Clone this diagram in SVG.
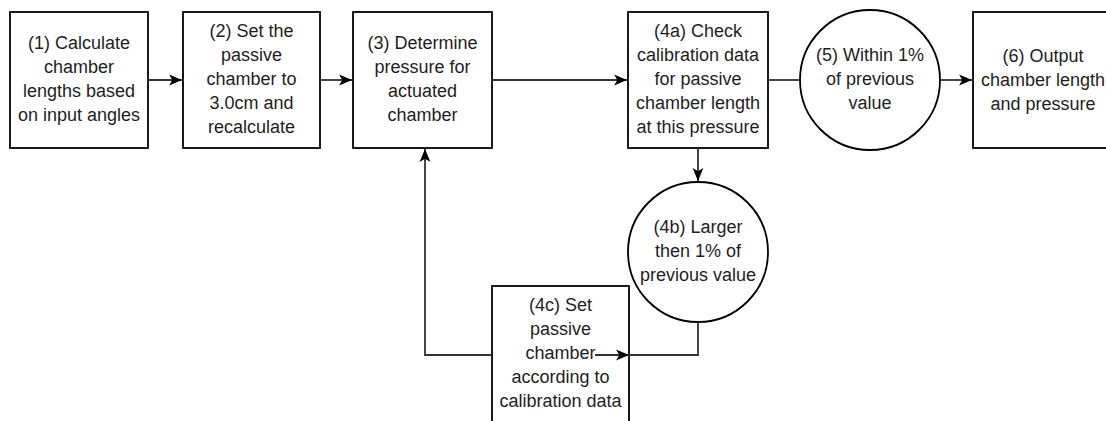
<svg xmlns="http://www.w3.org/2000/svg" width="1106" height="421" viewBox="0 0 1106 421">
<style>
.box{fill:#fff;stroke:#000;stroke-width:1.8}
.t{font-family:"Liberation Sans",Arial,sans-serif;font-size:18px;fill:#1e1e1e;text-anchor:middle}
.c{fill:none;stroke:#333;stroke-width:1.8}
</style>
<defs>
<marker id="arr" markerUnits="userSpaceOnUse" markerWidth="14" markerHeight="12" viewBox="0 0 13 10" refX="12" refY="5" orient="auto">
<path d="M0,0 L12,5 L0,10 L3,5 Z" fill="#000"/>
</marker>
</defs>
<rect width="1106" height="421" fill="#fff"/>
<g id="n1">
<rect class="box" x="10" y="12" width="138" height="136"/>
<text class="t" x="79" y="48.5">(1) Calculate</text>
<text class="t" x="79" y="72.5">chamber</text>
<text class="t" x="79" y="96.5">lengths based</text>
<text class="t" x="79" y="120.5">on input angles</text>
</g>
<g id="n2">
<rect class="box" x="183" y="12" width="137" height="136"/>
<text class="t" x="251.5" y="36.5">(2) Set the</text>
<text class="t" x="251.5" y="60.5">passive</text>
<text class="t" x="251.5" y="84.5">chamber to</text>
<text class="t" x="251.5" y="108.5">3.0cm and</text>
<text class="t" x="251.5" y="132.5">recalculate</text>
</g>
<g id="n3">
<rect class="box" x="353" y="12" width="139" height="136"/>
<text class="t" x="422.5" y="48.5">(3) Determine</text>
<text class="t" x="422.5" y="72.5">pressure for</text>
<text class="t" x="422.5" y="96.5">actuated</text>
<text class="t" x="422.5" y="120.5">chamber</text>
</g>
<g id="n4a">
<rect class="box" x="628" y="12" width="140" height="136"/>
<text class="t" x="698" y="36.5">(4a) Check</text>
<text class="t" x="698" y="60.5">calibration data</text>
<text class="t" x="698" y="84.5">for passive</text>
<text class="t" x="698" y="108.5">chamber length</text>
<text class="t" x="698" y="132.5">at this pressure</text>
</g>
<g id="n5">
<circle class="box" cx="870" cy="80" r="70"/>
<text class="t" x="870" y="60.5">(5) Within 1%</text>
<text class="t" x="870" y="84.5">of previous</text>
<text class="t" x="870" y="108.5">value</text>
</g>
<g id="n6">
<rect class="box" x="973" y="12" width="142" height="136"/>
<text class="t" x="1043" y="62">(6) Output</text>
<text class="t" x="1043" y="86">chamber length</text>
<text class="t" x="1043" y="110">and pressure</text>
</g>
<g id="n4b">
<circle class="box" cx="698" cy="252" r="70"/>
<text class="t" x="698" y="232.5">(4b) Larger</text>
<text class="t" x="698" y="256.5">then 1% of</text>
<text class="t" x="698" y="280.5">previous value</text>
</g>
<g id="n4c">
<rect class="box" x="492" y="286" width="137" height="138"/>
<text class="t" x="560.5" y="310.5">(4c) Set</text>
<text class="t" x="560.5" y="334.5">passive</text>
<text class="t" x="560.5" y="358.5">chamber</text>
<text class="t" x="560.5" y="382.5">according to</text>
<text class="t" x="560.5" y="406.5">calibration data</text>
</g>
<g id="connectors">
<path class="c" d="M148,80 H182" marker-end="url(#arr)"/>
<path class="c" d="M320,80 H352" marker-end="url(#arr)"/>
<path class="c" d="M492,80 H627" marker-end="url(#arr)"/>
<path class="c" d="M768,80 H800"/>
<path class="c" d="M940,80 H972" marker-end="url(#arr)"/>
<path class="c" d="M698,148 V181" marker-end="url(#arr)"/>
<path class="c" d="M698,322 V355 H629"/>
<path class="c" d="M595,355 H629" marker-end="url(#arr)"/>
<path class="c" d="M492,355 H425 V149" marker-end="url(#arr)"/>
</g>
</svg>
